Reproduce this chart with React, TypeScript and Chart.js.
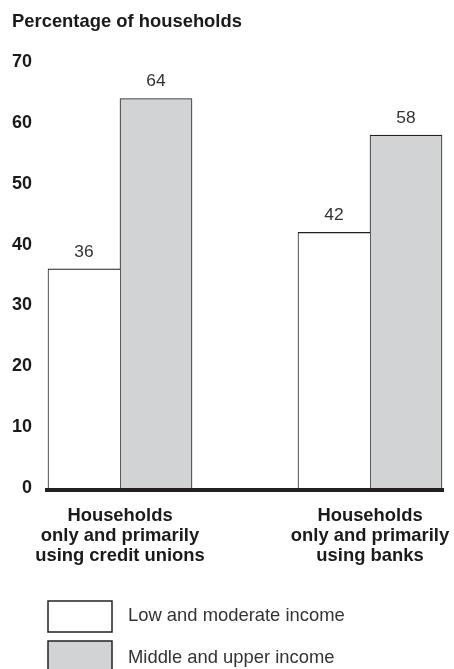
import React, { useEffect, useRef } from 'react';
import { Chart, registerables } from 'chart.js';

Chart.register(...registerables);

// ---- Data ----
const categories: string[][] = [
  ['Households', 'only and primarily', 'using credit unions'],
  ['Households', 'only and primarily', 'using banks'],
];
const seriesNames = ['Low and moderate income', 'Middle and upper income'];
const lowModerate = [36, 42];
const middleUpper = [64, 58];
const yTicks = [0, 10, 20, 30, 40, 50, 60, 70];
const titleText = 'Percentage of households';

const FONT = '"Liberation Sans", Arial, Helvetica, sans-serif';
const INK = '#1a1a1a';
const BORDER = '#222222';

const valueLabels = {
  id: 'valueLabels',
  afterDatasetsDraw(chart: any) {
    const ctx = chart.ctx;
    ctx.save();
    ctx.font = `17.4px ${FONT}`;
    ctx.fillStyle = '#333333';
    ctx.textAlign = 'center';
    ctx.textBaseline = 'alphabetic';
    chart.data.datasets.forEach((ds: any, i: number) => {
      const meta = chart.getDatasetMeta(i);
      meta.data.forEach((bar: any, j: number) => {
        const v = ds.data[j].y;
        ctx.fillText(String(v), bar.x, bar.y - 12);
      });
    });
    ctx.restore();
  },
};

const boxLegend = {
  id: 'boxLegend',
  afterDraw(chart: any) {
    const ctx = chart.ctx;
    const left = chart.chartArea.left + 1;
    const top0 = 601;
    chart.data.datasets.forEach((ds: any, i: number) => {
      const y = top0 + i * 40;
      ctx.save();
      ctx.fillStyle = ds.backgroundColor;
      ctx.strokeStyle = '#222222';
      ctx.lineWidth = 1.5;
      ctx.fillRect(left, y, 64, 31);
      ctx.strokeRect(left, y, 64, 31);
      ctx.font = `18.4px ${FONT}`;
      ctx.fillStyle = '#333333';
      ctx.textBaseline = 'middle';
      ctx.textAlign = 'left';
      ctx.fillText(ds.label, 128, y + 15 + i * 1.5);
      ctx.restore();
    });
  },
};

export default function App() {
  const canvasRef = useRef<HTMLCanvasElement | null>(null);

  useEffect(() => {
    if (!canvasRef.current) return;
    const chart = new Chart(canvasRef.current, {
      type: 'bar',
      data: {
        datasets: [
          {
            label: seriesNames[0],
            data: lowModerate.map((v, i) => ({ x: i, y: v })),
            backgroundColor: '#ffffff',
            borderColor: BORDER,
            borderWidth: { top: 1.2, left: 1, right: 0, bottom: 0 },
            barThickness: 72,
          },
          {
            label: seriesNames[1],
            data: middleUpper.map((v, i) => ({ x: i, y: v })),
            backgroundColor: '#d1d3d4',
            borderColor: BORDER,
            borderWidth: { top: 1.2, left: 1, right: 1, bottom: 0 },
            barThickness: 72,
          },
        ] as any,
      },
      options: {
        animation: false,
        responsive: false,
        events: [],
        layout: { padding: { left: 12, right: 11, top: 0, bottom: 79 } },
        plugins: {
          legend: { display: false },
          tooltip: { enabled: false },
          title: {
            display: true,
            text: titleText,
            align: 'start',
            color: INK,
            font: { family: FONT, size: 18.4, weight: 'bold', lineHeight: 1.2 },
            padding: { top: 10.4, bottom: 29.5 },
          },
        },
        scales: {
          x: {
            type: 'linear',
            bounds: 'data',
            offset: false,
            min: -0.292,
            max: 1.292,
            afterBuildTicks: (s: any) => {
              s.ticks = categories.map((_, i) => ({ value: i }));
            },
            afterFit: (s: any) => {
              s.height = 100;
              s.paddingLeft = 0;
              s.paddingRight = 0;
            },
            grid: { display: false, drawTicks: false },
            border: { display: true, color: '#231f20', width: 4, z: 1 },
            ticks: {
              callback: (_v: any, index: number) => categories[index] ?? '',
              font: { family: FONT, size: 18.4, weight: 'bold', lineHeight: 1.09 },
              color: INK,
              padding: 16,
              maxRotation: 0,
              autoSkip: false,
            },
          },
          y: {
            type: 'linear',
            bounds: 'data',
            min: -0.33,
            max: 70,
            afterBuildTicks: (s: any) => {
              s.ticks = yTicks.map((v) => ({ value: v }));
            },
            afterFit: (s: any) => {
              s.width = 35;
            },
            grid: { display: false, drawTicks: false },
            border: { display: false },
            ticks: {
              font: { family: FONT, size: 18, weight: 'bold' },
              color: INK,
              padding: 15,
            },
          },
        },
      } as any,
      plugins: [valueLabels, boxLegend],
    });
    return () => chart.destroy();
  }, []);

  return (
    <div style={{ position: 'absolute', left: 0, top: 0, width: 454, height: 669, background: '#ffffff' }}>
      <canvas ref={canvasRef} width={454} height={669} style={{ display: 'block' }} />
    </div>
  );
}
